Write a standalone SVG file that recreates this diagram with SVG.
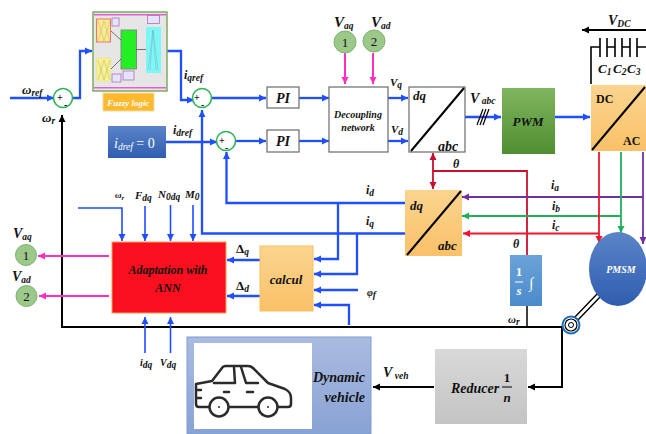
<svg xmlns="http://www.w3.org/2000/svg" width="646" height="434" viewBox="0 0 646 434">
<defs>
<linearGradient id="gBlue" x1="0" y1="0" x2="0" y2="1"><stop offset="0" stop-color="#5b85c8"/><stop offset="1" stop-color="#2f5db0"/></linearGradient>
<linearGradient id="gGreen" x1="0" y1="0" x2="0" y2="1"><stop offset="0" stop-color="#80b55f"/><stop offset="1" stop-color="#4f8f30"/></linearGradient>
<linearGradient id="gOrange" x1="0" y1="0" x2="0" y2="1"><stop offset="0" stop-color="#fbd48f"/><stop offset="1" stop-color="#f9c168"/></linearGradient>
<linearGradient id="gSky" x1="0" y1="0" x2="0" y2="1"><stop offset="0" stop-color="#6ba3d8"/><stop offset="1" stop-color="#4a8bcb"/></linearGradient>
<linearGradient id="gGrey" x1="0" y1="0" x2="0" y2="1"><stop offset="0" stop-color="#d8d8d8"/><stop offset="1" stop-color="#c4c4c4"/></linearGradient>
<linearGradient id="gVeh" x1="0" y1="0" x2="0" y2="1"><stop offset="0" stop-color="#abbbe0"/><stop offset="1" stop-color="#88a2d4"/></linearGradient>
<marker id="aBlue" markerUnits="userSpaceOnUse" markerWidth="8" markerHeight="8" refX="7" refY="4" orient="auto"><path d="M0 0.5L7 4L0 7.5z" fill="#1f4fff"/></marker>
<marker id="aBlack" markerUnits="userSpaceOnUse" markerWidth="8" markerHeight="8" refX="7" refY="4" orient="auto"><path d="M0 0.5L7 4L0 7.5z" fill="#000"/></marker>
<marker id="aPink" markerUnits="userSpaceOnUse" markerWidth="8" markerHeight="8" refX="7" refY="4" orient="auto"><path d="M0 0.5L7 4L0 7.5z" fill="#ff2fc0"/></marker>
<marker id="aRed" markerUnits="userSpaceOnUse" markerWidth="8" markerHeight="8" refX="7" refY="4" orient="auto"><path d="M0 0.5L7 4L0 7.5z" fill="#f0142d"/></marker>
<marker id="aDRed" markerUnits="userSpaceOnUse" markerWidth="8" markerHeight="8" refX="7" refY="4" orient="auto"><path d="M0 0.5L7 4L0 7.5z" fill="#c8102e"/></marker>
<marker id="aGreen" markerUnits="userSpaceOnUse" markerWidth="8" markerHeight="8" refX="7" refY="4" orient="auto"><path d="M0 0.5L7 4L0 7.5z" fill="#1fb05a"/></marker>
<marker id="aPurple" markerUnits="userSpaceOnUse" markerWidth="8" markerHeight="8" refX="7" refY="4" orient="auto"><path d="M0 0.5L7 4L0 7.5z" fill="#7030a0"/></marker>
</defs>
<style>
text{font-family:"Liberation Serif","DejaVu Serif",serif;font-style:italic;font-weight:bold;fill:#111;font-size:12px}
.c{text-anchor:middle}
.r{text-anchor:end}
.up{font-style:normal}
.sub{font-size:9.500px}
.pm{font-style:normal;font-size:10px}
.w{fill:#fff}
.sum{fill:#fff;stroke:#2fb35a;stroke-width:1.6}
.box{fill:#fff;stroke:#6a6a6a;stroke-width:1.2}
.num{fill:#9cc88a;stroke:#7fb36e;stroke-width:1}
.diag{stroke:#000;stroke-width:2;fill:none}
#connectors path{fill:none;stroke-linejoin:miter}
.b{stroke:#1f4fff;stroke-width:2.300}
.bt{stroke:#1f4fff;stroke-width:1.6}
.k{stroke:#000;stroke-width:2}
.p{stroke:#ff2fc0;stroke-width:2}
.rd{stroke:#f0142d;stroke-width:1.8}
.dr{stroke:#c8102e;stroke-width:1.8}
.g{stroke:#1fb05a;stroke-width:1.8}
.v{stroke:#7030a0;stroke-width:1.8}
</style>

<g id="connectors">
<path class="k" d="M570 327H62V115" marker-end="url(#aBlack)"/>
<path class="b" d="M10 98H54" marker-end="url(#aBlue)"/>
<path class="b" d="M73 98H80V51H92" marker-end="url(#aBlue)"/>
<path class="b" d="M167 51H181V100H194" marker-end="url(#aBlue)"/>
<path class="b" d="M212 98H266" marker-end="url(#aBlue)"/>
<path class="b" d="M166 142H217" marker-end="url(#aBlue)"/>
<path class="b" d="M236 141H266" marker-end="url(#aBlue)"/>
<path class="b" d="M299 98H329" marker-end="url(#aBlue)"/>
<path class="b" d="M299 141H329" marker-end="url(#aBlue)"/>
<path class="b" d="M388 98H408" marker-end="url(#aBlue)"/>
<path class="b" d="M388 141H408" marker-end="url(#aBlue)"/>
<path class="b" d="M465 117H501" marker-end="url(#aBlue)"/>
<path class="k" style="stroke-width:1.2" d="M477 125L483 109M480 125L486 109M483 125L489 109"/>
<path class="b" d="M555 117H590" marker-end="url(#aBlue)"/>
<path class="b" d="M405 233.500H202V110" marker-end="url(#aBlue)"/>
<path class="b" d="M405 203H226.500V152" marker-end="url(#aBlue)"/>
<path class="b" d="M338 203V259H314" marker-end="url(#aBlue)"/>
<path class="b" d="M357 234V274H314" marker-end="url(#aBlue)"/>
<path class="b" d="M358 290H314" marker-end="url(#aBlue)"/>
<path class="b" d="M349 325V305H314" marker-end="url(#aBlue)"/>
<path class="b" d="M260 260H227" marker-end="url(#aBlue)"/>
<path class="b" d="M260 296H227" marker-end="url(#aBlue)"/>
<path class="bt" d="M78 208H122V241" marker-end="url(#aBlue)"/>
<path class="bt" d="M145 206V241" marker-end="url(#aBlue)"/>
<path class="bt" d="M170.500 205V241" marker-end="url(#aBlue)"/>
<path class="bt" d="M193 205V241" marker-end="url(#aBlue)"/>
<path class="bt" d="M145 353V317" marker-end="url(#aBlue)"/>
<path class="bt" d="M170.500 353V317" marker-end="url(#aBlue)"/>
<path class="p" d="M109 256H38" marker-end="url(#aPink)"/>
<path class="p" d="M109 296H39" marker-end="url(#aPink)"/>
<path class="p" d="M345 53V84" marker-end="url(#aPink)"/>
<path class="p" d="M373 53V84" marker-end="url(#aPink)"/>
<path class="dr" d="M433 172V153" marker-end="url(#aDRed)"/>
<path class="dr" d="M433 171V189" marker-end="url(#aDRed)"/>
<path class="dr" d="M433 171H527V255"/>
<path class="k" style="stroke-width:1.5" d="M527 306V327"/>
<path class="v" d="M643 197H462" marker-end="url(#aPurple)"/>
<path class="g" d="M621 216H462" marker-end="url(#aGreen)"/>
<path class="rd" d="M599 233.500H463" marker-end="url(#aRed)"/>
<path class="rd" d="M599 152V243" marker-end="url(#aRed)"/>
<path class="g" d="M621 152V233" marker-end="url(#aGreen)"/>
<path class="v" d="M643 152V244" marker-end="url(#aPurple)"/>
<path class="k" style="stroke-width:1.4" d="M598 293L574 318M601 296L577 321"/>
<path class="k" d="M562 327V387H528" marker-end="url(#aBlack)"/>
<path class="k" d="M434 387H373" marker-end="url(#aBlack)"/>
<path class="k" d="M646 30H582" marker-end="url(#aBlack)"/>
<path class="k" style="stroke-width:1.6" d="M591 84V47H600M607 47H615M622 47H630M637 47H646"/>
<path class="k" style="stroke-width:1.6" d="M600 38V57M607 38V57M615 38V57M622 38V57M630 38V57M637 38V57"/>
</g>

<g id="sum1"><circle class="sum" cx="63" cy="98" r="9.500"/><text x="57" y="101" class="pm">+</text><text x="64" y="108" class="pm">-</text></g>
<g id="sum2"><circle class="sum" cx="202" cy="98" r="9.500"/><text x="194" y="101" class="pm">+</text><text x="201" y="108" class="pm">-</text></g>
<g id="sum3"><circle class="sum" cx="226" cy="141" r="9.500"/><text x="219" y="144" class="pm">+</text><text x="225" y="151" class="pm">-</text></g>

<g id="fuzzy">
<rect x="93" y="12" width="74" height="79" fill="#e6e6e6" stroke="#7faa5f" stroke-width="1.500"/>
<rect x="94" y="14" width="72" height="1.500" fill="#e060d0"/>
<rect x="94" y="87" width="72" height="1.500" fill="#e060d0"/>
<rect x="96.500" y="19" width="14" height="23" fill="#fbe98a" stroke="#f07070"/>
<rect x="96.500" y="58" width="14" height="23" fill="#f8f08a" stroke="#e8e080" stroke-width="0.500"/>
<path d="M98 41L104 21L110 41M98 21L104 41L110 21M98 80L104 60L110 80M98 60L104 80L110 60" fill="none" stroke="#b5b08a" stroke-width="0.500"/>
<rect x="121" y="30" width="15.500" height="39" fill="#22f022" stroke="#888"/>
<rect x="146" y="27" width="15" height="46" fill="#7ff6f6"/>
<path d="M150 70L153 30L156 70M148 70L153 30L158 70" fill="none" stroke="#70b8c0" stroke-width="0.500"/>
<path d="M111 31L121 40M111 69L121 59M136 49.500H146" fill="none" stroke="#555" stroke-width="0.800"/>
<rect x="112" y="18" width="7" height="8" fill="#e4e4ff" stroke="#b070b0" stroke-width="0.800"/>
<rect x="112" y="74" width="9" height="8" fill="#e4e4ff" stroke="#b070b0" stroke-width="0.800"/>
<rect x="123" y="71" width="11" height="9" fill="#e4e4ff" stroke="#b070b0" stroke-width="0.800"/>
<rect x="147.500" y="15.500" width="12" height="8" fill="#e4e4ff" stroke="#b070b0" stroke-width="0.800"/>
</g>
<g id="fuzzy-label"><rect x="103" y="93" width="51" height="18" fill="#fdb92e" stroke="#f3d9a0"/><text x="128.500" y="106" class="c w" style="font-size:9px">Fuzzy logic</text></g>
<g id="idref0"><rect x="108" y="126" width="58" height="32" fill="url(#gBlue)"/><text x="114" y="148" class="w" style="font-size:14px;font-weight:normal">i<tspan class="sub" dy="2">dref</tspan><tspan dy="-2" font-style="normal"> = 0</tspan></text></g>
<g id="pi1"><rect class="box" x="267" y="87" width="32" height="21"/><text x="283" y="103" class="c" style="font-size:14px">PI</text></g>
<g id="pi2"><rect class="box" x="267" y="130" width="32" height="22"/><text x="283" y="146" class="c" style="font-size:14px">PI</text></g>
<g id="decoupling"><rect class="box" x="329" y="87" width="59" height="65"/><text x="358" y="118" class="c" style="font-size:10px">Decoupling</text><text x="358" y="131" class="c" style="font-size:10px">network</text></g>
<g id="dqabc1"><rect class="box" x="409" y="87" width="56" height="65"/><path class="diag" d="M411 151L464 88"/><text x="413" y="100" style="font-size:13px">dq</text><text x="438" y="151" style="font-size:14px">abc</text></g>
<g id="pwm"><rect x="502" y="88" width="53" height="66" fill="url(#gGreen)"/><text x="528" y="126" class="c" style="font-size:13px">PWM</text></g>
<g id="dcac"><rect x="591" y="85" width="55" height="66" fill="url(#gOrange)"/><path class="diag" d="M592 150L645 87"/><text x="596" y="103" style="font-size:12px;font-style:normal">DC</text><text x="623" y="145" style="font-size:12px;font-style:normal">AC</text></g>
<g id="in1"><circle class="num" cx="345" cy="42" r="11"/><text x="345" y="47" class="c up" style="font-size:13px;font-weight:normal">1</text></g>
<g id="in2"><circle class="num" cx="374" cy="41" r="11"/><text x="374" y="46" class="c up" style="font-size:13px;font-weight:normal">2</text></g>
<g id="dqabc2"><rect x="405" y="190" width="57" height="66" fill="url(#gOrange)"/><path class="diag" d="M407 255L461 191"/><text x="410" y="210" style="font-size:13px">dq</text><text x="438" y="250" style="font-size:13px">abc</text></g>
<g id="integrator"><rect x="510" y="255" width="32" height="51" fill="url(#gSky)"/><text x="519" y="276" class="c w" style="font-size:13px;font-style:normal">1</text><path d="M515 282H523" stroke="#fff" stroke-width="1"/><text x="519" y="295" class="c w" style="font-size:13px">s</text><text x="531" y="288" class="c w" style="font-size:15px;font-weight:normal">∫</text></g>
<g id="pmsm"><ellipse cx="618" cy="269" rx="29" ry="37" fill="url(#gBlue)"/><text x="621" y="273" class="c w" style="font-size:10px">PMSM</text></g>
<g id="wheel"><circle cx="571" cy="325" r="8.500" fill="#fff" stroke="#1c6fb8" stroke-width="2"/><circle cx="571" cy="325" r="6" fill="none" stroke="#000" stroke-width="1.200"/><circle cx="571" cy="325" r="2.500" fill="none" stroke="#000" stroke-width="1"/></g>
<g id="ann"><rect x="112" y="242" width="114" height="71" fill="#fa0f1e" stroke="#f8a050"/><text x="168" y="274" class="c" style="font-size:12px">Adaptation with</text><text x="168" y="292" class="c" style="font-size:12px">ANN</text></g>
<g id="calcul"><rect x="260" y="246" width="53" height="65" fill="url(#gOrange)" stroke="#f8c060"/><text x="286" y="284" class="c" style="font-size:13px">calcul</text></g>
<g id="out1"><circle class="num" cx="26" cy="255" r="10.500"/><text x="26" y="260" class="c up" style="font-size:13px;font-weight:normal">1</text></g>
<g id="out2"><circle class="num" cx="26.500" cy="296" r="10.500"/><text x="26.500" y="301" class="c up" style="font-size:13px;font-weight:normal">2</text></g>
<g id="reducer"><rect x="435" y="349" width="92" height="75" fill="url(#gGrey)"/><text x="451" y="393" style="font-size:14px">Reducer</text><text x="507" y="382" class="c up" style="font-size:13px">1</text><path d="M502 387H512" stroke="#000" stroke-width="1"/><text x="507" y="402" class="c" style="font-size:13px">n</text></g>
<g id="vehicle">
<rect x="187" y="337" width="184" height="97" fill="url(#gVeh)" stroke="#7f9ed6"/>
<rect x="194" y="343" width="118" height="86" fill="#fff"/>
<path d="M209 407H199Q196 407 196 404V384L212 381L222 368Q223 366 226 366H248Q251 366 253 368L268 383L285 389Q291 392 291 398V404Q291 407 288 407H278M229 407H258M214 383H235L234 367M241 367L246 383H258M224 392H229M247 392H253M197 390H201M197 398H201" fill="none" stroke="#2b2b2b" stroke-width="2.500" stroke-linejoin="round" stroke-linecap="round"/>
<circle cx="219" cy="407" r="9.500" fill="#fff" stroke="#2b2b2b" stroke-width="2.500"/><circle cx="268" cy="407" r="9.500" fill="#fff" stroke="#2b2b2b" stroke-width="2.500"/><circle cx="219" cy="407" r="1" fill="#2b2b2b"/><circle cx="268" cy="407" r="1" fill="#2b2b2b"/>
<text x="365" y="382" class="r" style="font-size:14px">Dynamic</text><text x="365" y="402" class="r" style="font-size:14px">vehicle</text>
</g>

<g id="labels">
<text x="22" y="94" style="font-size:13px">ω<tspan class="sub" dy="2">ref</tspan></text>
<text x="42" y="122" style="font-size:13px">ω<tspan class="sub" dy="2">r</tspan></text>
<text x="184" y="79" style="font-size:12px">i<tspan class="sub" dy="2">qref</tspan></text>
<text x="173" y="134" style="font-size:12px">i<tspan class="sub" dy="2">dref</tspan></text>
<text x="334" y="27" style="font-size:15px">V<tspan class="sub" dy="2">aq</tspan></text>
<text x="371" y="27" style="font-size:15px">V<tspan class="sub" dy="2">ad</tspan></text>
<text x="390" y="86" style="font-size:11px">V<tspan class="sub" dy="2">q</tspan></text>
<text x="391" y="133" style="font-size:11px">V<tspan class="sub" dy="2">d</tspan></text>
<text x="470" y="103" style="font-size:14px">V<tspan class="sub" dy="1"> abc</tspan></text>
<text x="608" y="25" style="font-size:14px">V<tspan class="sub" dy="2">DC</tspan></text>
<text x="598" y="73" style="font-size:13px">C<tspan class="sub" dy="2">1</tspan></text>
<text x="613" y="73" style="font-size:13px">C<tspan class="sub" dy="2">2</tspan></text>
<text x="627" y="73" style="font-size:13px">C<tspan class="sub" dy="2">3</tspan></text>
<text x="453" y="168" style="font-size:12px">θ</text>
<text x="513" y="248" style="font-size:12px">θ</text>
<text x="508" y="323" style="font-size:11px">ω<tspan class="sub" dy="2">r</tspan></text>
<text x="551" y="189" style="font-size:12px">i<tspan class="sub" dy="2">a</tspan></text>
<text x="552" y="210" style="font-size:12px">i<tspan class="sub" dy="2">b</tspan></text>
<text x="552" y="229" style="font-size:12px">i<tspan class="sub" dy="2">c</tspan></text>
<text x="366" y="194" style="font-size:12px">i<tspan class="sub" dy="2">d</tspan></text>
<text x="366" y="225" style="font-size:12px">i<tspan class="sub" dy="2">q</tspan></text>
<text x="367" y="296" style="font-size:10px">φ<tspan class="sub" dy="2">f</tspan></text>
<text x="236" y="253" style="font-size:13px;font-style:normal">Δ<tspan class="sub" dy="2" font-style="italic">q</tspan></text>
<text x="236" y="290" style="font-size:13px;font-style:normal">Δ<tspan class="sub" dy="2" font-style="italic">d</tspan></text>
<text x="115" y="198" style="font-size:9px">ω<tspan class="sub" dy="2" style="font-size:7px">r</tspan></text>
<text x="135" y="199" style="font-size:11px">F<tspan class="sub" dy="2">dq</tspan></text>
<text x="158" y="198" style="font-size:11px">N<tspan class="sub" dy="2">0dq</tspan></text>
<text x="185" y="198" style="font-size:11px">M<tspan class="sub" dy="2">0</tspan></text>
<text x="13" y="238" style="font-size:14px">V<tspan class="sub" dy="2">aq</tspan></text>
<text x="12" y="281" style="font-size:14px">V<tspan class="sub" dy="2">ad</tspan></text>
<text x="140" y="366" style="font-size:10px">i<tspan class="sub" dy="2">dq</tspan></text>
<text x="160" y="366" style="font-size:10px">V<tspan class="sub" dy="2">dq</tspan></text>
<text x="383" y="377" style="font-size:14px">V<tspan class="sub" dy="2"> veh</tspan></text>
</g>
</svg>
